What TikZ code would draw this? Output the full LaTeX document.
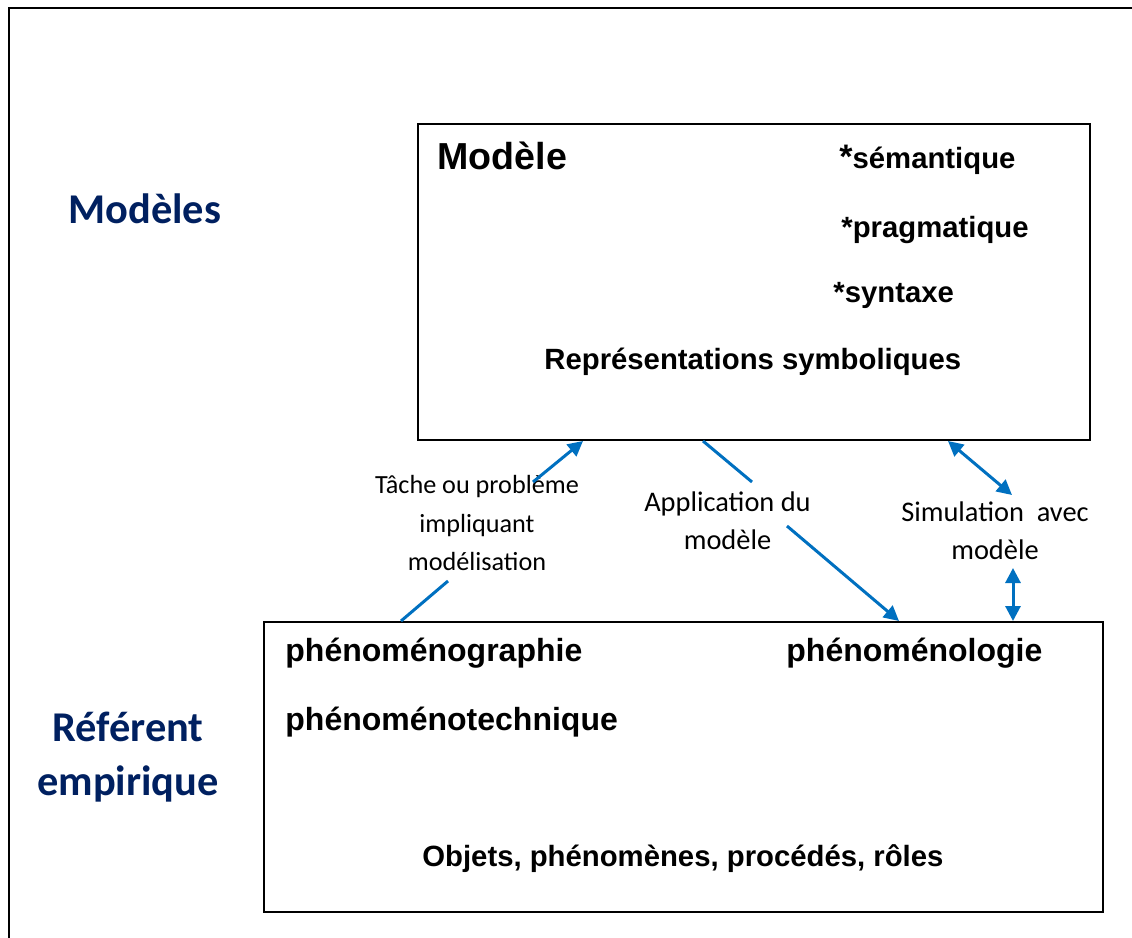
\documentclass[tikz,border=0pt]{standalone}
\usepackage{fontspec}
\setmainfont{Liberation Sans}
\newfontfamily\calibri{Carlito}
\usepackage{xcolor}
\usetikzlibrary{arrows.meta}
\definecolor{navy}{HTML}{002060}
\definecolor{arrowblue}{HTML}{0070C0}
\tikzstyle{frame}=[draw=black, line width=1pt]
\tikzstyle{box node}=[fill=white, draw=black, line width=1pt, inner sep=0pt]
\tikzstyle{title node}=[text=navy, font=\calibri\bfseries\fontsize{21.2}{26.8}\selectfont, align=center, inner sep=0pt]
\tikzstyle{head text}=[font=\bfseries\fontsize{18.8}{22}\selectfont, inner sep=0pt, anchor=base west]
\tikzstyle{big text}=[font=\bfseries\fontsize{16}{20}\selectfont, inner sep=0pt, anchor=base west]
\tikzstyle{bold text}=[font=\bfseries\fontsize{14.65}{18}\selectfont, inner sep=0pt, anchor=base west]
\tikzstyle{label node}=[font=\calibri\fontsize{13.1}{19.25}\selectfont, align=center, inner sep=0pt, anchor=north]
\tikzstyle{big label node}=[label node, font=\calibri\fontsize{14.2}{19.3}\selectfont]
\tikzstyle{blue edge}=[draw=arrowblue, line width=1.5pt]
\tikzstyle{blue arrow}=[blue edge, -{Triangle[length=7.5pt, width=7.5pt]}]
\tikzstyle{blue double}=[blue edge, {Triangle[length=7.5pt, width=7.5pt]}-{Triangle[length=7.5pt, width=7.5pt]}]
\pgfdeclarelayer{nodelayer}
\pgfdeclarelayer{edgelayer}
\pgfsetlayers{nodelayer,edgelayer,main}

\begin{document}
\begin{tikzpicture}[x=0.5pt, y=-0.5pt]
	\useasboundingbox (0, 0) rectangle (1132, 938);
	\begin{pgfonlayer}{nodelayer}
		\draw [style=frame] (9, 8) rectangle (1150, 960);
		\node [style=box node, minimum width=336pt, minimum height=158pt] (0) at (754, 282) {};
		\node [style=box node, minimum width=419.5pt, minimum height=145pt] (1) at (683.5, 767) {};
		\node [style=title node, anchor=base west] (2) at (68, 223) {Modèles};
		\node [style=title node, anchor=north] (3) at (128, 712) {Référent\\empirique};
		\node [style=head text] (4) at (437, 169) {Modèle};
		\node [style=bold text] (5) at (839, 168) {{\fontsize{17}{17}\selectfont *}sémantique};
		\node [style=bold text] (6) at (841, 237) {*pragmatique};
		\node [style=bold text] (7) at (833, 302) {*syntaxe};
		\node [style=bold text] (8) at (544, 369) {Représentations symboliques};
		\node [style=big text] (9) at (285, 661) {phénoménographie};
		\node [style=big text] (10) at (786, 661) {phénoménologie};
		\node [style=big text] (11) at (285, 730) {phénoménotechnique};
		\node [style=bold text] (12) at (422, 866) {Objets, phénomènes, procédés, rôles};
		\node [style=label node] (13) at (477, 475) {Tâche ou problème\\impliquant\\modélisation};
		\node [style=big label node] (14) at (727.5, 491) {Application du\\modèle};
		\node [style=big label node] (15) at (995, 501) {Simulation~ avec\\modèle};
	\end{pgfonlayer}
	\begin{pgfonlayer}{edgelayer}
		\coordinate (16) at (448, 581);
		\coordinate (17) at (533, 482);
		\coordinate (18) at (752, 482);
		\coordinate (19) at (787, 526);
		\coordinate (20) at (1012, 495);
		\coordinate (21) at (1013, 568);
		\draw [style=blue edge] (1.north -| 401, 0) to (16);
		\draw [style=blue arrow] (17) to (0.south -| 583, 0);
		\draw [style=blue edge] (0.south -| 703, 0) to (18);
		\draw [style=blue arrow] (19) to (1.north -| 899, 0);
		\draw [style=blue double] (0.south -| 948, 0) to (20);
		\draw [style=blue double] (21) to (1.north -| 1013, 0);
	\end{pgfonlayer}
\end{tikzpicture}
\end{document}
